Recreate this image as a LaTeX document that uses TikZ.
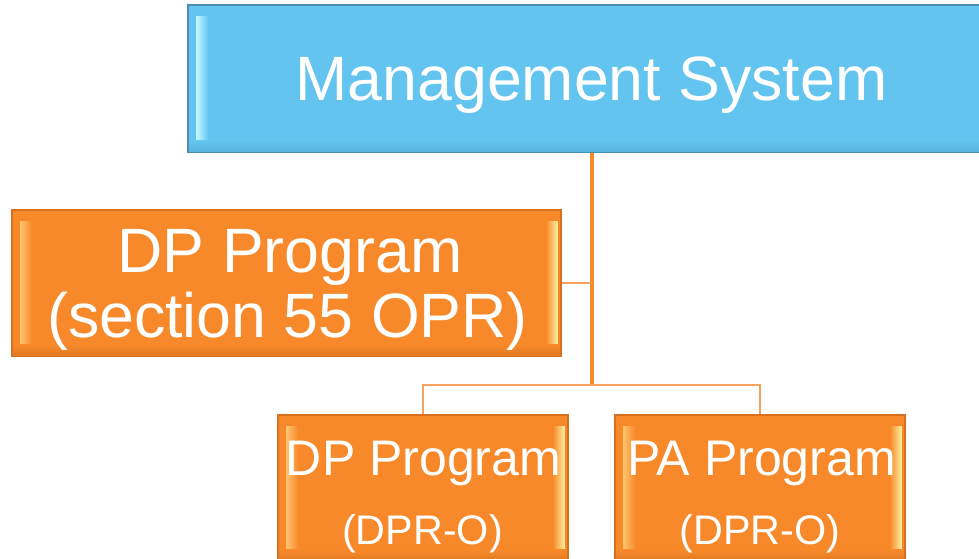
\documentclass[tikz,border=0pt]{standalone}
\usepackage{fontspec}
\setmainfont{Liberation Sans}
\usetikzlibrary{calc}
\definecolor{skyfill}{HTML}{63C5EF}
\definecolor{skyedge}{HTML}{4A8DAE}
\definecolor{skydark}{HTML}{56B3DC}
\definecolor{skylight}{HTML}{C4FAFF}
\definecolor{orfill}{HTML}{F7892A}
\definecolor{oredge}{HTML}{D8711F}
\definecolor{ordark}{HTML}{E27A22}
\definecolor{orlightL}{HTML}{FFC46E}
\definecolor{orlightR}{HTML}{FFF2A0}
\definecolor{lineor}{HTML}{F7892A}
\definecolor{linelight}{HTML}{F8A25E}
\newcommand\bevelbox[5]{%
  \shade[left color=#3, right color=#2] ([shift={(9,12)}]#1.north west) rectangle ([shift={(21,-12)}]#1.south west);
  \shade[left color=#2, right color=#4] ([shift={(-16,12)}]#1.north east) rectangle ([shift={(-4,-12)}]#1.south east);
  \shade[top color=#2, bottom color=#5] ([shift={(2,-12)}]#1.south west) rectangle ([shift={(-2,-1)}]#1.south east);
}
\tikzset{
  box/.style={draw, line width=1.2pt, rectangle, inner sep=0pt},
  skybox/.style={box, fill=skyfill, draw=skyedge},
  orbox/.style={box, fill=orfill, draw=oredge},
  txt/.style={text=white, inner sep=0pt, anchor=base},
  big/.style={font=\fontsize{47}{47}\selectfont},
  mid/.style={font=\fontsize{37.5}{37.5}\selectfont},
  small/.style={font=\fontsize{31}{31}\selectfont},
  trunk/.style={draw=lineor, line width=2.3pt},
  branch/.style={draw=linelight, line width=1.6pt},
}
\begin{document}
\begin{tikzpicture}[x=0.75pt, y=-0.75pt]
\useasboundingbox (0,0) rectangle (979,558);
\clip (0,0) rectangle (979,558);
% boxes
\node[skybox, minimum width=807*0.75pt, minimum height=147*0.75pt] (top) at (591.5,78.5) {};
\node[orbox, minimum width=549*0.75pt, minimum height=146*0.75pt] (left) at (286.5,283) {};
\node[orbox, minimum width=290*0.75pt, minimum height=146*0.75pt] (bl) at (423,488) {};
\node[orbox, minimum width=290*0.75pt, minimum height=146*0.75pt] (br) at (760,488) {};
\bevelbox{top}{skyfill}{skylight}{skydark}{skydark}
\bevelbox{left}{orfill}{orlightL}{orlightR}{ordark}
\bevelbox{bl}{orfill}{orlightL}{orlightR}{ordark}
\bevelbox{br}{orfill}{orlightL}{orlightR}{ordark}
% texts
\node[txt, big] (t0) at (591.5,100) {Management System};
\node[txt, big] (t1) at (290,272) {DP Program};
\node[txt, big] (t2) at (287.5,337) {(section 55 OPR)};
\node[txt, mid] (t3) at (423.5,475) {DP Program};
\node[txt, small] (t4) at (422.5,544) {(DPR-O)};
\node[txt, mid] (t5) at (761.5,475) {PA Program};
\node[txt, small] (t6) at (760,544) {(DPR-O)};
% connectors
\coordinate (hub) at (592,385);
\draw[trunk] (top.south -| hub) -- (hub);
\draw[branch] (left.east) -- (left.east -| hub);
\draw[branch] (hub) -| (bl.north);
\draw[branch] (hub) -| (br.north);
\end{tikzpicture}
\end{document}
